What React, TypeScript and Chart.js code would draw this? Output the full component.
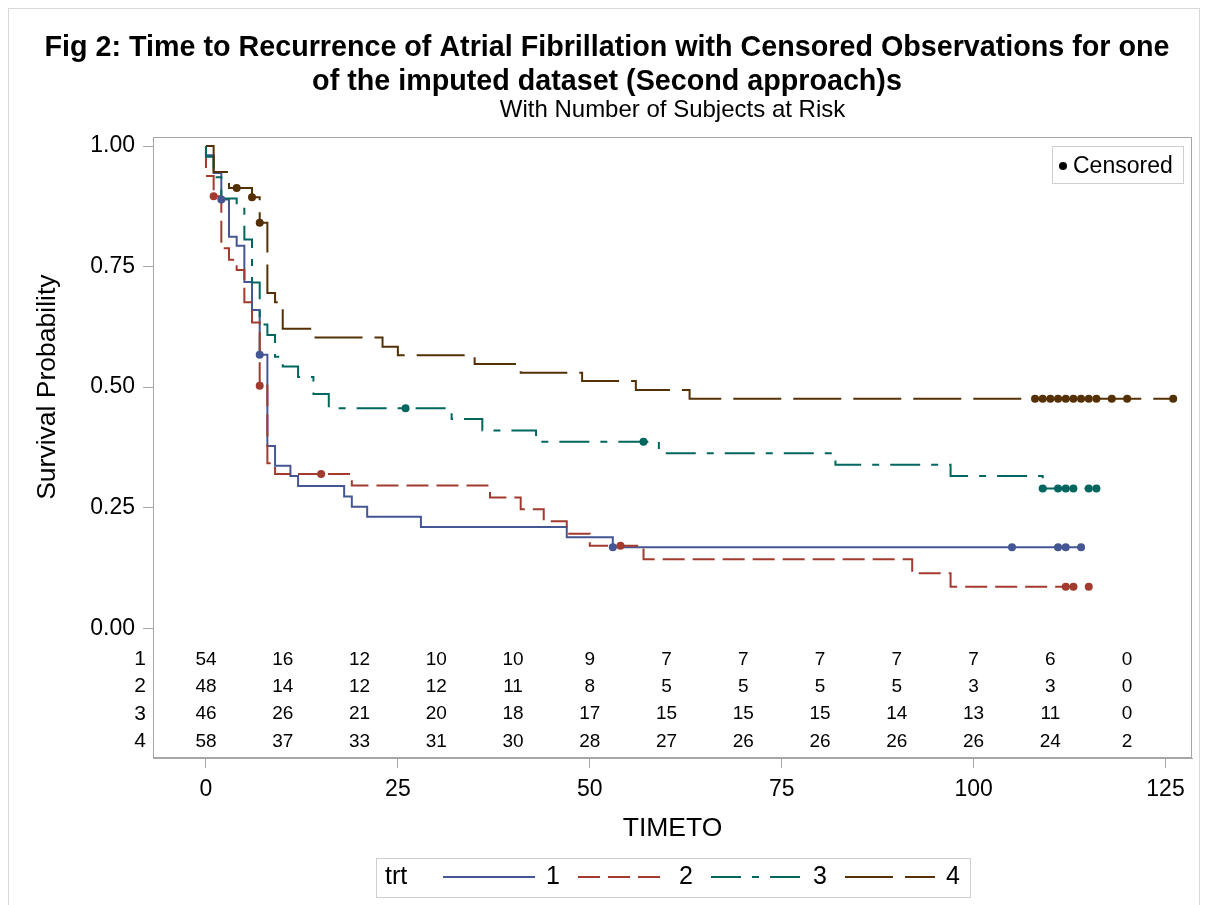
import React, { useEffect, useRef } from 'react';
import { Chart, registerables } from 'chart.js';

Chart.register(...registerables);

const FONT = '"Liberation Sans", Arial, Helvetica, sans-serif';

const titleLine1 = 'Fig 2: Time to Recurrence of Atrial Fibrillation with Censored Observations for one';
const titleLine2 = 'of the imputed dataset (Second approach)s';
const subtitle = 'With Number of Subjects at Risk';
const xTitle = 'TIMETO';
const yTitle = 'Survival Probability';
const legendTitle = 'trt';
const censoredLabel = 'Censored';

const groupLabels = ['1', '2', '3', '4'];
const groupColors = ['#445694', '#A23A2E', '#01665E', '#543005'];
const groupDashes = [[], [22, 8], [30, 11, 7, 11], [48, 12]];

// Kaplan-Meier step points (time at which the survival becomes the given value)
const time1 = [0, 0, 1, 2, 3, 4, 5, 6, 7, 8, 9, 11, 12, 18, 19, 21, 28, 47, 53, 114];
const surv1 = [1, 0.981, 0.944, 0.889, 0.812, 0.793, 0.718, 0.66, 0.567, 0.378, 0.337, 0.316, 0.295, 0.273, 0.252, 0.231, 0.21, 0.189, 0.168, 0.168];

const time2 = [0, 0, 1, 2, 3, 4, 5, 6, 7, 8, 9, 19, 37, 41, 44, 47, 50, 57, 92, 97, 115];
const surv2 = [1, 0.938, 0.896, 0.788, 0.764, 0.743, 0.676, 0.634, 0.503, 0.342, 0.32, 0.296, 0.271, 0.247, 0.222, 0.196, 0.171, 0.143, 0.114, 0.086, 0.086];

const time3 = [0, 0, 1, 2, 4, 5, 6, 7, 8, 9, 10, 12, 14, 16, 32, 36, 43, 59, 82, 97, 109, 116];
const surv3 = [1, 0.978, 0.935, 0.891, 0.87, 0.806, 0.717, 0.63, 0.608, 0.563, 0.543, 0.521, 0.486, 0.456, 0.434, 0.41, 0.387, 0.363, 0.339, 0.316, 0.29, 0.29];

const time4 = [0, 1, 3, 6, 7, 8, 9, 10, 14, 23, 25, 35, 41, 49, 56, 63, 126];
const surv4 = [1, 0.946, 0.913, 0.894, 0.841, 0.695, 0.676, 0.621, 0.603, 0.584, 0.566, 0.548, 0.53, 0.513, 0.494, 0.476, 0.476];

// censoring times
const cens1 = [2, 7, 53, 105, 111, 112, 114];
const cens2 = [1, 7, 15, 54, 112, 113, 115];
const cens3 = [26, 57, 109, 111, 112, 113, 115, 116];
const cens4 = [4, 6, 7, 108, 109, 110, 111, 112, 113, 114, 115, 116, 118, 120, 126];

// number at risk
const riskTimes = [0, 10, 20, 30, 40, 50, 60, 70, 80, 90, 100, 110, 120];
const risk1 = [54, 16, 12, 10, 10, 9, 7, 7, 7, 7, 7, 6, 0];
const risk2 = [48, 14, 12, 12, 11, 8, 5, 5, 5, 5, 3, 3, 0];
const risk3 = [46, 26, 21, 20, 18, 17, 15, 15, 15, 14, 13, 11, 0];
const risk4 = [58, 37, 33, 31, 30, 28, 27, 26, 26, 26, 26, 24, 2];

const xTicks = [0, 25, 50, 75, 100, 125];
const yTicks = [0, 0.25, 0.5, 0.75, 1];

const curveTimes = [time1, time2, time3, time4];
const curveSurv = [surv1, surv2, surv3, surv4];
const censTimes = [cens1, cens2, cens3, cens4];
const riskRows = [risk1, risk2, risk3, risk4];

function survAt(times: number[], survs: number[], t: number) {
  let s = survs[0];
  for (let i = 0; i < times.length; i++) {
    if (times[i] <= t) s = survs[i];
  }
  return s;
}

const AXIS_COLOR = '#a6a6a6';

const decorPlugin = {
  id: 'decor',
  afterDraw(chart: any) {
    const ctx = chart.ctx as CanvasRenderingContext2D;
    const { left, right, top, bottom } = chart.chartArea;
    const xs = chart.scales.x;
    const ys = chart.scales.y;
    const cx = (left + right) / 2;
    ctx.save();

    // outer border
    ctx.strokeStyle = '#d9d9d9';
    ctx.lineWidth = 1;
    ctx.strokeRect(8.5, 8.5, 1191, 910);

    // plot frame
    ctx.strokeStyle = AXIS_COLOR;
    ctx.strokeRect(Math.round(left) + 0.5, Math.round(top) + 0.5, Math.round(right - left) - 1, Math.round(bottom - top) - 1);

    ctx.fillStyle = '#000';
    ctx.textAlign = 'center';
    ctx.textBaseline = 'middle';

    // titles
    ctx.font = `bold 28.7px ${FONT}`;
    ctx.fillText(titleLine1, 607, 48);
    ctx.fillText(titleLine2, 607, 82);
    ctx.font = `24px ${FONT}`;
    ctx.fillText(subtitle, cx, 110);

    // axis titles
    ctx.font = `26.5px ${FONT}`;
    ctx.fillText(xTitle, cx, 829);
    ctx.save();
    ctx.translate(48, ys.getPixelForValue(0.5));
    ctx.rotate(-Math.PI / 2);
    ctx.fillText(yTitle, 0, 0);
    ctx.restore();

    // at-risk table
    const y0 = ys.getPixelForValue(0);
    riskRows.forEach((row, i) => {
      const ry = y0 + 31 + i * 27.4;
      ctx.textAlign = 'right';
      ctx.font = `21px ${FONT}`;
      ctx.fillText(groupLabels[i], 146, ry);
      ctx.textAlign = 'center';
      ctx.font = `19px ${FONT}`;
      row.forEach((n, j) => {
        ctx.fillText(String(n), xs.getPixelForValue(riskTimes[j]), ry);
      });
    });

    // censored legend (inset)
    ctx.strokeStyle = '#cfcfcf';
    ctx.strokeRect(1052.5, 146.5, 131, 37);
    ctx.beginPath();
    ctx.arc(1063, 166, 4, 0, Math.PI * 2);
    ctx.fillStyle = '#000';
    ctx.fill();
    ctx.textAlign = 'left';
    ctx.font = `23px ${FONT}`;
    ctx.fillText(censoredLabel, 1073, 167);

    // bottom legend
    ctx.strokeStyle = '#cfcfcf';
    ctx.strokeRect(376.5, 858.5, 594, 39);
    const ly = 877;
    ctx.font = `25px ${FONT}`;
    ctx.fillStyle = '#000';
    ctx.fillText(legendTitle, 385, ly);
    const segs = [[443, 535, 546], [578, 660, 679], [711, 801, 813], [845, 935, 946]];
    segs.forEach((s, i) => {
      ctx.beginPath();
      ctx.strokeStyle = groupColors[i];
      ctx.lineWidth = 2;
      ctx.setLineDash(groupDashes[i]);
      ctx.moveTo(s[0], ly);
      ctx.lineTo(s[1], ly);
      ctx.stroke();
      ctx.setLineDash([]);
      ctx.fillStyle = '#000';
      ctx.fillText(groupLabels[i], s[2], ly);
    });

    ctx.restore();
  },
};

export default function App() {
  const canvasRef = useRef<HTMLCanvasElement | null>(null);

  useEffect(() => {
    if (!canvasRef.current) return;
    const datasets: any[] = [];
    censTimes.forEach((c, i) => {
      datasets.push({
        type: 'scatter',
        label: 'cens' + groupLabels[i],
        data: c.map((t) => ({ x: t, y: survAt(curveTimes[i], curveSurv[i], t) })),
        backgroundColor: groupColors[i],
        borderColor: groupColors[i],
        borderWidth: 0,
        pointRadius: 4,
        pointHoverRadius: 4,
        pointStyle: 'circle',
        showLine: false,
        order: 0,
      });
    });
    curveTimes.forEach((times, i) => {
      datasets.push({
        type: 'line',
        label: groupLabels[i],
        data: times.map((t, j) => ({ x: t, y: curveSurv[i][j] })),
        borderColor: groupColors[i],
        borderWidth: 2,
        borderDash: groupDashes[i],
        stepped: 'before',
        pointRadius: 0,
        fill: false,
        order: 1 + (3 - i),
      });
    });

    const chart = new Chart(canvasRef.current, {
      type: 'line',
      data: { datasets },
      options: {
        responsive: false,
        animation: false,
        events: [],
        layout: { padding: { left: 0, right: 16, top: 137, bottom: 0 } },
        plugins: {
          legend: { display: false },
          title: { display: false },
          tooltip: { enabled: false },
        },
        scales: {
          x: {
            type: 'linear',
            min: -6.9,
            max: 128.45,
            afterBuildTicks: (s: any) => {
              s.ticks = xTicks.map((v) => ({ value: v }));
            },
            afterFit: (s: any) => {
              s.height = 147;
            },
            grid: { drawOnChartArea: false, drawTicks: true, tickLength: 10, color: AXIS_COLOR },
            border: { display: true, color: AXIS_COLOR },
            ticks: {
              color: '#000',
              font: { family: FONT, size: 23 },
              padding: 8,
              maxRotation: 0,
              autoSkip: false,
              callback: (v: any) => String(v),
            },
          },
          y: {
            type: 'linear',
            min: -0.269,
            max: 1.0187,
            afterBuildTicks: (s: any) => {
              s.ticks = yTicks.map((v) => ({ value: v }));
            },
            afterFit: (s: any) => {
              s.width = 153;
            },
            grid: { drawOnChartArea: false, drawTicks: true, tickLength: 10, color: AXIS_COLOR },
            border: { display: true, color: AXIS_COLOR },
            ticks: {
              color: '#000',
              font: { family: FONT, size: 23 },
              padding: 8,
              autoSkip: false,
              callback: (v: any) => Number(v).toFixed(2),
            },
          },
        },
      },
      plugins: [decorPlugin],
    });
    return () => chart.destroy();
  }, []);

  return (
    <div style={{ position: 'absolute', left: 0, top: 0, width: 1208, height: 905, background: '#fff' }}>
      <canvas ref={canvasRef} width={1208} height={905} style={{ width: 1208, height: 905, display: 'block' }} />
    </div>
  );
}
